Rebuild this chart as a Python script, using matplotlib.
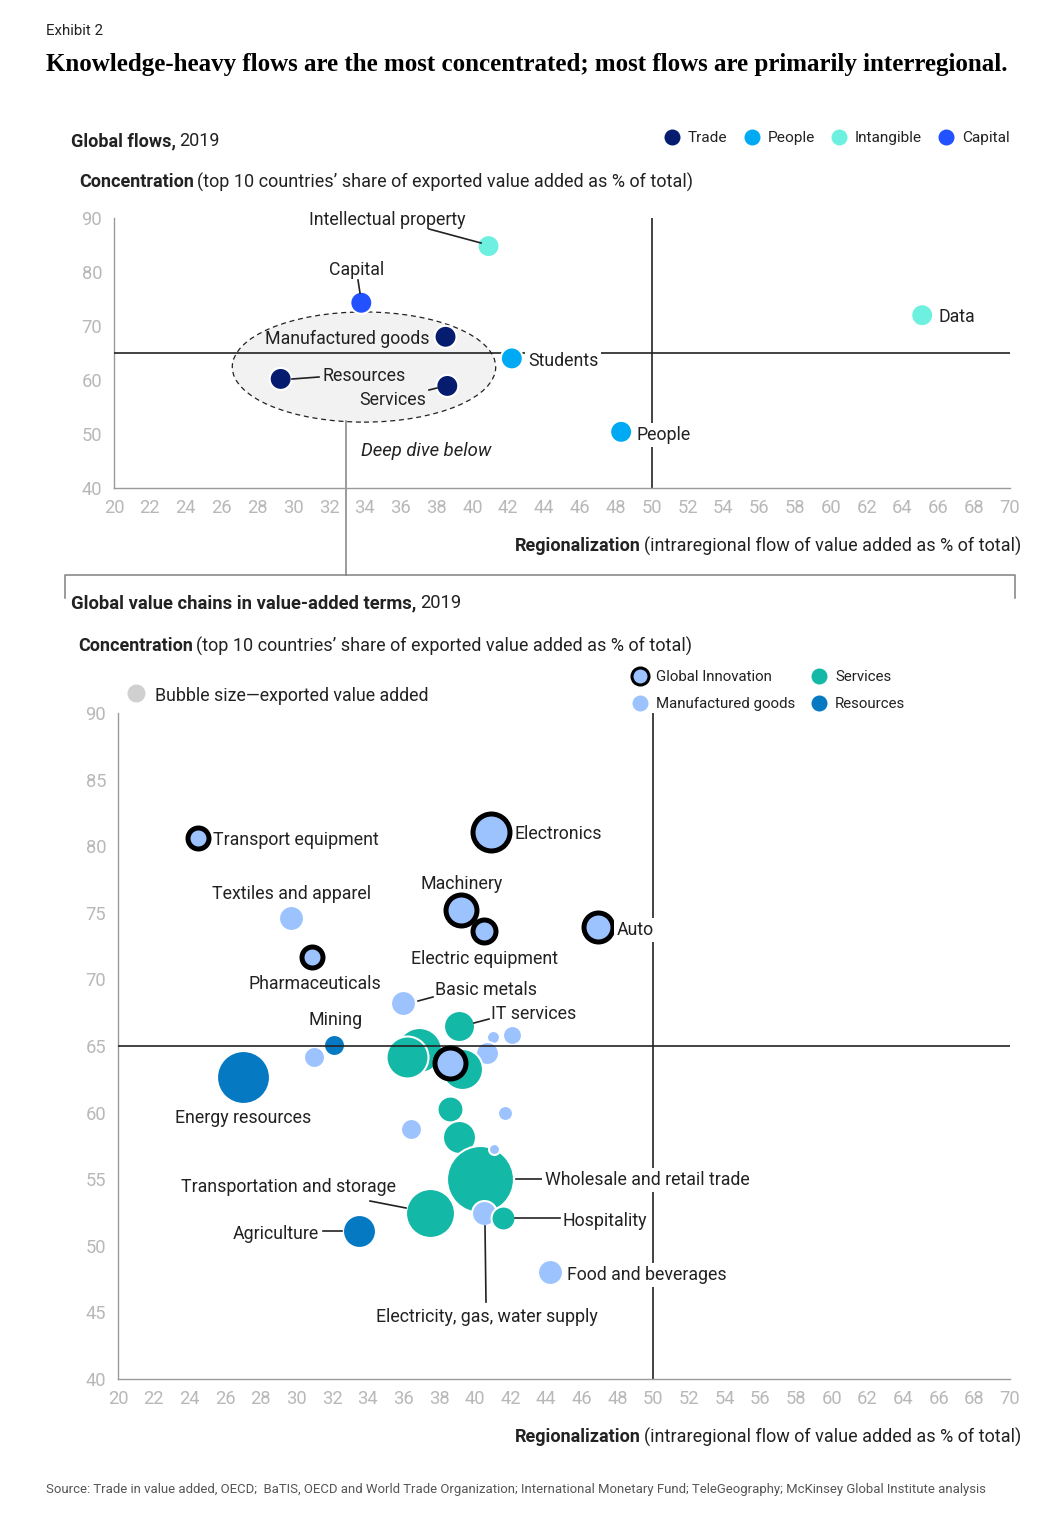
import matplotlib
matplotlib.use('Agg')
import matplotlib.pyplot as plt
from matplotlib.patches import Ellipse
from matplotlib.transforms import Affine2D

W, H = 1049, 1515
plt.rcParams['font.family'] = ['Roboto', 'DejaVu Sans']

NAVY = '#051c6f'
CYAN = '#00a9f4'
AQUA = '#6ef0e0'
BLUE = '#2251ff'
LIGHT = '#9dc3ff'
TEAL = '#14b8a6'
RES = '#0679c3'
INK = '#222222'
TICK = '#b8b8b8'

# global flows
flow_names = ['Intellectual property', 'Capital', 'Manufactured goods', 'Students',
              'Resources', 'Services', 'Data', 'People']
flow_region = [40.9, 33.8, 38.5, 42.2, 29.3, 38.6, 65.1, 48.3]
flow_conc = [84.8, 74.3, 68.0, 64.0, 60.2, 58.9, 72.0, 50.4]
flow_type = ['Intangible', 'Capital', 'Trade', 'People', 'Trade', 'Trade', 'Intangible', 'People']
flow_colors = {'Trade': NAVY, 'People': CYAN, 'Intangible': AQUA, 'Capital': BLUE}

# global value chains, drawn in this order
gvc_region = [29.7, 36.0, 41.0, 42.1, 40.7, 31.0, 41.7, 36.4, 44.2,
              39.1, 36.9, 36.2, 39.3, 38.6, 39.1, 40.3, 37.5,
              40.5, 41.6, 41.1, 32.1, 27.0, 33.5,
              24.5, 40.9, 39.2, 40.5, 46.9, 30.9, 38.6]
gvc_conc = [74.6, 68.2, 65.7, 65.8, 64.5, 64.2, 60.0, 58.8, 48.0,
            66.5, 64.7, 64.2, 63.3, 60.3, 58.2, 55.0, 52.5,
            52.5, 52.1, 57.3, 65.1, 62.7, 51.1,
            80.6, 81.1, 75.2, 73.6, 73.9, 71.7, 63.7]
gvc_value = [144, 144, 36, 81, 121, 100, 49, 100, 144,
             225, 484, 420, 400, 156, 256, 1089, 576,
             144, 132, 25, 100, 676, 256,
             169, 441, 324, 196, 289, 169, 324]
gvc_type = (['Manufactured'] * 9 + ['Services'] * 8 + ['Manufactured'] + ['Services'] + ['Manufactured']
            + ['Resources'] * 3 + ['Innovation'] * 7)
gvc_colors = {'Manufactured': LIGHT, 'Services': TEAL, 'Resources': RES, 'Innovation': LIGHT}

x_ticks = list(range(20, 71, 2))
top_y_ticks = list(range(40, 91, 10))
bottom_y_ticks = list(range(40, 91, 5))

fig = plt.figure(figsize=(W / 100, H / 100), dpi=100)
# pixel coordinates measured from the top left of the picture
px = Affine2D().scale(1 / W, -1 / H).translate(0, 1) + fig.transFigure


def make_axes(left, top, right, bottom, yticks):
    ax = fig.add_axes([left / W, 1 - bottom / H, (right - left) / W, (bottom - top) / H])
    ax.set_xlim(20, 70)
    ax.set_ylim(40, 90)
    ax.set_xticks(x_ticks)
    ax.set_yticks(yticks)
    ax.tick_params(length=0, labelsize=13.2, labelcolor=TICK, pad=8)
    ax.tick_params(axis='y', pad=8.5)
    for s in ['top', 'right']:
        ax.spines[s].set_visible(False)
    for s in ['left', 'bottom']:
        ax.spines[s].set_color('#9a9a9a')
        ax.spines[s].set_linewidth(1)
    ax.axhline(65, color=INK, lw=1.2, zorder=3)
    ax.axvline(50, color=INK, lw=1.2, zorder=1)
    return ax


def label(ax, s, x, y, white=False, **kw):
    kw.setdefault('fontsize', 12.8)
    kw.setdefault('color', INK)
    if white:
        kw['bbox'] = dict(facecolor='white', edgecolor='none', pad=2)
    ax.text(x, y + 1, s, transform=px, va='center', ha=kw.pop('ha', 'left'), zorder=6, clip_on=False, **kw)


def leader(ax, x0, y0, x1, y1):
    ax.plot([x0, x1], [y0, y1], color=INK, lw=1.2, transform=px, zorder=5, clip_on=False)


def mixed(ax, y, parts, x=None, right=None, size=13.0):
    # bold lead-in followed by regular text
    r = fig.canvas.get_renderer()
    items = [ax.text(0, y + 1, s, transform=px, va='center', fontsize=size, color=INK,
                     fontweight=w, clip_on=False, zorder=6) for s, w in parts]
    widths = [t.get_window_extent(r).width for t in items]
    gap = 3.5
    if x is None:
        x = right - sum(widths) - gap * (len(items) - 1)
    for t, w in zip(items, widths):
        t.set_x(x)
        x += w + gap


def dot(ax, x, y, color, r, **kw):
    ax.plot([x], [y], 'o', ms=2 * r * 0.72, mfc=color, mec=kw.pop('mec', 'none'),
            mew=kw.pop('mew', 0), transform=px, clip_on=False, zorder=6)


# top panel
ax1 = make_axes(114, 218, 1010, 488, top_y_ticks)
ax1.add_patch(Ellipse((33.95, 62.4), 14.7, 20.4, facecolor='#f2f2f2', edgecolor=INK,
                      ls=(0, (4, 3)), lw=0.9, zorder=2))
ax1.scatter(flow_region, flow_conc, s=2.07 * 11 ** 2, c=[flow_colors[t] for t in flow_type],
            edgecolors='white', linewidths=1.5, zorder=4, clip_on=False)

label(ax1, 'Intellectual property', 309, 219)
leader(ax1, 429, 229, 481, 243)
label(ax1, 'Capital', 329, 269)
leader(ax1, 358, 280, 360, 293)
label(ax1, 'Manufactured goods', 265, 338)
label(ax1, 'Resources', 322, 375)
leader(ax1, 292, 379, 319, 377)
label(ax1, 'Services', 359, 399)
leader(ax1, 429, 390, 437, 388)
label(ax1, 'Students', 528, 360, white=True)
label(ax1, 'People', 637, 434, white=True)
label(ax1, 'Data', 939, 316)
label(ax1, 'Deep dive below', 361, 450, style='italic', fontsize=13.3)

# link to the deep dive panel
ax1.plot([345.5, 345.5], [421, 575], color='#808080', lw=1.1, transform=px, clip_on=False, zorder=2)
ax1.plot([65, 65, 1015, 1015], [598, 575, 575, 598], color='#808080', lw=1.1,
         transform=px, clip_on=False, zorder=2)

# bottom panel
ax2 = make_axes(118, 713, 1010, 1379, bottom_y_ticks)
for xv, yv, v, t in zip(gvc_region, gvc_conc, gvc_value, gvc_type):
    r = v ** 0.5
    if t == 'Innovation':
        ax2.scatter([xv], [yv], s=2.07 * (r - 2.5) ** 2, c=gvc_colors[t], edgecolors='black',
                    linewidths=3.6, zorder=4, clip_on=False)
    else:
        ax2.scatter([xv], [yv], s=2.07 * (r + 0.5) ** 2, c=gvc_colors[t], edgecolors='white',
                    linewidths=1.5, zorder=2, clip_on=False)

label(ax2, 'Transport equipment', 213, 839)
label(ax2, 'Electronics', 515, 833)
label(ax2, 'Machinery', 420, 883)
label(ax2, 'Auto', 617, 929, white=True)
label(ax2, 'Textiles and apparel', 212, 893)
label(ax2, 'Pharmaceuticals', 248, 983)
label(ax2, 'Electric equipment', 411, 958)
label(ax2, 'Basic metals', 435, 989)
leader(ax2, 418, 1001, 433, 997)
label(ax2, 'IT services', 491, 1013)
leader(ax2, 474, 1023, 489, 1019)
label(ax2, 'Mining', 308, 1019)
label(ax2, 'Energy resources', 175, 1117)
label(ax2, 'Wholesale and retail trade', 545, 1179, white=True)
leader(ax2, 516, 1179, 542, 1179)
label(ax2, 'Transportation and storage', 181, 1186)
leader(ax2, 370, 1201, 406, 1208)
label(ax2, 'Hospitality', 563, 1220)
leader(ax2, 515, 1218, 560, 1218)
label(ax2, 'Agriculture', 233, 1233)
leader(ax2, 323, 1231, 342, 1231)
label(ax2, 'Electricity, gas, water supply', 376, 1316)
leader(ax2, 485, 1226, 486, 1302)
label(ax2, 'Food and beverages', 567, 1274, white=True)

# headings
fig.canvas.draw()
ax1.text(46, 31, 'Exhibit 2', transform=px, va='center', fontsize=10.8, color=INK, clip_on=False)
ax1.text(46, 64, 'Knowledge-heavy flows are the most concentrated; most flows are primarily interregional.',
         transform=px, va='center', fontsize=18, fontweight='bold', family='Liberation Serif',
         color='black', clip_on=False)
mixed(ax1, 140, [('Global flows,', 'bold'), ('2019', 'normal')], x=71)
mixed(ax1, 181, [('Concentration', 'bold'),
                 ('(top 10 countries\u2019 share of exported value added as % of total)', 'normal')], x=79)
mixed(ax1, 545, [('Regionalization', 'bold'),
                 ('(intraregional flow of value added as % of total)', 'normal')], right=1021)
mixed(ax2, 602, [('Global value chains in value-added terms,', 'bold'), ('2019', 'normal')], x=71, size=13.2)
mixed(ax2, 645, [('Concentration', 'bold'),
                 ('(top 10 countries\u2019 share of exported value added as % of total)', 'normal')], x=78)
mixed(ax2, 1436, [('Regionalization', 'bold'),
                  ('(intraregional flow of value added as % of total)', 'normal')], right=1021)

# legends
for name, dx, tx in [('Trade', 672, 688), ('People', 752, 768), ('Intangible', 839, 855), ('Capital', 946, 962)]:
    dot(ax1, dx, 137, flow_colors[name], 8)
    label(ax1, name, tx, 137, fontsize=11.1)

dot(ax2, 136, 693, '#d0d0d0', 9)
label(ax2, 'Bubble size\u2014exported value added', 155, 695)
dot(ax2, 640, 676, LIGHT, 8.5, mec='black', mew=2.2)
label(ax2, 'Global Innovation', 656, 676, fontsize=10.8)
dot(ax2, 640, 703, LIGHT, 8)
label(ax2, 'Manufactured goods', 656, 703, fontsize=10.8)
dot(ax2, 819, 676, TEAL, 8)
label(ax2, 'Services', 835, 676, fontsize=10.8)
dot(ax2, 819, 703, RES, 8)
label(ax2, 'Resources', 835, 703, fontsize=10.8)

ax2.text(46, 1490, 'Source: Trade in value added, OECD;  BaTIS, OECD and World Trade Organization; '
         'International Monetary Fund; TeleGeography; McKinsey Global Institute analysis',
         transform=px, va='center', fontsize=9.45, color='#555555', clip_on=False)

fig.savefig('out.png', dpi=100)
